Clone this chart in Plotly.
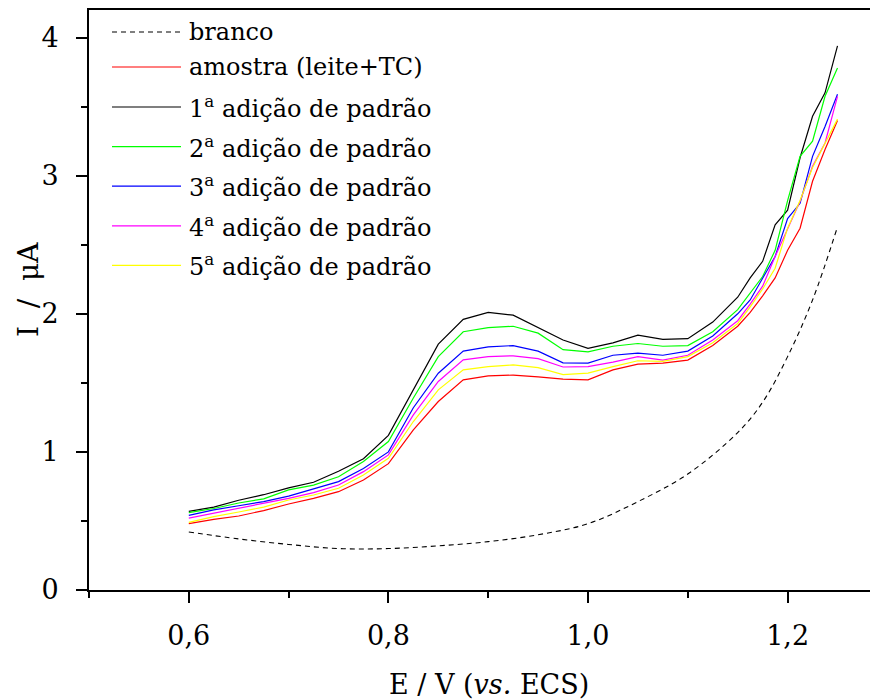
import plotly.graph_objects as go

# ---------------- data ----------------
E = [0.600, 0.625, 0.650, 0.675, 0.700, 0.725, 0.750, 0.775, 0.800, 0.825,
     0.850, 0.875, 0.900, 0.925, 0.950, 0.975, 1.000, 1.025, 1.050, 1.075,
     1.100, 1.125, 1.150, 1.1625, 1.175, 1.1875, 1.200, 1.2125, 1.225, 1.2375, 1.250]

branco_E = [0.60, 0.65, 0.70, 0.75, 0.80, 0.85, 0.90, 0.95, 1.00, 1.05,
            1.10, 1.15, 1.175, 1.20, 1.225, 1.25]
branco_I = [0.42, 0.37, 0.33, 0.30, 0.30, 0.32, 0.35, 0.40, 0.48, 0.64,
            0.84, 1.14, 1.36, 1.69, 2.10, 2.63]

amostra = [0.48, 0.512, 0.536, 0.575, 0.623, 0.664, 0.712, 0.797, 0.915, 1.159,
           1.365, 1.522, 1.551, 1.556, 1.544, 1.527, 1.522, 1.594, 1.635, 1.643,
           1.665, 1.77, 1.91, 2.01, 2.13, 2.26, 2.46, 2.62, 2.96, 3.19, 3.40]
adicao1 = [0.57, 0.60, 0.65, 0.69, 0.74, 0.78, 0.86, 0.95, 1.12, 1.45,
           1.78, 1.96, 2.01, 1.99, 1.90, 1.81, 1.75, 1.79, 1.845, 1.815,
           1.82, 1.94, 2.12, 2.26, 2.38, 2.645, 2.75, 3.13, 3.43, 3.60, 3.94]
adicao2 = [0.56, 0.59, 0.63, 0.66, 0.725, 0.76, 0.82, 0.93, 1.075, 1.39,
           1.69, 1.87, 1.90, 1.91, 1.86, 1.74, 1.725, 1.765, 1.785, 1.765,
           1.77, 1.87, 2.03, 2.15, 2.27, 2.46, 2.82, 3.14, 3.25, 3.575, 3.78]
adicao3 = [0.54, 0.58, 0.61, 0.64, 0.68, 0.73, 0.785, 0.88, 1.00, 1.32,
           1.57, 1.73, 1.76, 1.77, 1.73, 1.645, 1.643, 1.70, 1.715, 1.70,
           1.73, 1.84, 2.00, 2.10, 2.26, 2.415, 2.69, 2.80, 3.14, 3.357, 3.59]
adicao4 = [0.52, 0.556, 0.59, 0.628, 0.664, 0.705, 0.76, 0.857, 0.978, 1.268,
           1.51, 1.667, 1.69, 1.696, 1.675, 1.615, 1.618, 1.65, 1.69, 1.665,
           1.70, 1.81, 1.95, 2.07, 2.20, 2.415, 2.62, 2.814, 3.068, 3.237, 3.575]
adicao5 = [0.49, 0.531, 0.565, 0.60, 0.652, 0.688, 0.737, 0.833, 0.954, 1.22,
           1.449, 1.594, 1.618, 1.63, 1.61, 1.56, 1.57, 1.618, 1.66, 1.655,
           1.69, 1.79, 1.93, 2.05, 2.18, 2.33, 2.62, 2.82, 3.06, 3.24, 3.41]

names = ["branco", "amostra (leite+TC)",
         "1<sup>a</sup> adição de padrão", "2<sup>a</sup> adição de padrão",
         "3<sup>a</sup> adição de padrão", "4<sup>a</sup> adição de padrão",
         "5<sup>a</sup> adição de padrão"]
colors = ["#000000", "#FF0000", "#000000", "#00FF00", "#0000FF", "#FF00FF", "#FFFF00"]
solid_series = [amostra, adicao1, adicao2, adicao3, adicao4, adicao5]

x_title = "E / V (<i>vs.</i> ECS)"
y_title = "I&nbsp; / &nbsp;μA"

# ---------------- layout constants ----------------
OFF = 8                      # page body margin of the html page
W, H = 878 - OFF, 700 - OFF
ML, MR, MT, MB = 89 - OFF, 0, 10 - OFF, 110
PW, PH = W - ML - MR, H - MT - MB
FONT = "DejaVu Serif"
DASH = "5px,4px"

def px_x(px):            # page pixel -> paper x
    return (px - OFF - ML) / PW

def px_y(py):            # page pixel -> paper y
    return (H - MB - (py - OFF)) / PH

fig = go.Figure()
fig.add_trace(go.Scatter(x=branco_E, y=branco_I, mode="lines", name=names[0],
                         line=dict(color=colors[0], width=1.1, dash=DASH, shape="spline"),
                         showlegend=False))
for ys, nm, c in zip(solid_series, names[1:], colors[1:]):
    fig.add_trace(go.Scatter(x=E, y=ys, mode="lines", name=nm,
                             line=dict(color=c, width=1.2), showlegend=False))

# ---------------- manual legend ----------------
row_y = [32, 67] + [107 + 39.6 * k for k in range(5)]
shapes = []
annotations = []
for i, (nm, c) in enumerate(zip(names, colors)):
    y = px_y(row_y[i])
    shapes.append(dict(type="line", xref="paper", yref="paper",
                       x0=px_x(112), x1=px_x(181), y0=y, y1=y,
                       line=dict(color=c, width=1.2, dash=DASH if i == 0 else "solid")))
    annotations.append(dict(text=nm, xref="paper", yref="paper", x=px_x(187),
                            y=y, xanchor="left", yanchor="middle", showarrow=False,
                            font=dict(family=FONT, size=24, color="black")))

annotations.append(dict(text=x_title, xref="paper", yref="paper", x=px_x(489),
                        y=px_y(684), xanchor="center", yanchor="middle", showarrow=False,
                        font=dict(family=FONT, size=27, color="black")))
annotations.append(dict(text=y_title, xref="paper", yref="paper", x=px_x(28),
                        y=px_y(290), xanchor="center", yanchor="middle", showarrow=False,
                        textangle=-90, font=dict(family=FONT, size=28, color="black")))

fig.update_layout(
    width=W, height=H,
    margin=dict(l=ML, r=MR, t=MT, b=MB, pad=0),
    paper_bgcolor="white", plot_bgcolor="white",
    separators=",.",
    font=dict(family=FONT, size=27, color="black"),
    shapes=shapes, annotations=annotations,
    showlegend=False,
)
fig.update_xaxes(range=[0.5, 0.5 + PW / 998.0], showgrid=False, zeroline=False,
                 showline=True, linecolor="black", linewidth=2, mirror=True,
                 ticks="outside", ticklen=11, tickwidth=2, tickcolor="black",
                 tick0=0.2, dtick=0.2, tickformat=".1f",
                 ticklabelstandoff=10,
                 tickfont=dict(family=FONT, size=27, color="black"),
                 minor=dict(ticks="outside", ticklen=6, tickwidth=2, tickcolor="black",
                            tick0=0.5, dtick=0.1, showgrid=False))
fig.update_yaxes(range=[0, 4.2], showgrid=False, zeroline=False,
                 showline=True, linecolor="black", linewidth=2, mirror=False,
                 ticks="outside", ticklen=11, tickwidth=2, tickcolor="black",
                 tick0=0, dtick=1, ticklabelstandoff=12,
                 tickfont=dict(family=FONT, size=27, color="black"),
                 minor=dict(ticks="outside", ticklen=6, tickwidth=2, tickcolor="black",
                            tick0=0.5, dtick=0.5, showgrid=False))

fig.write_html("out.html")
